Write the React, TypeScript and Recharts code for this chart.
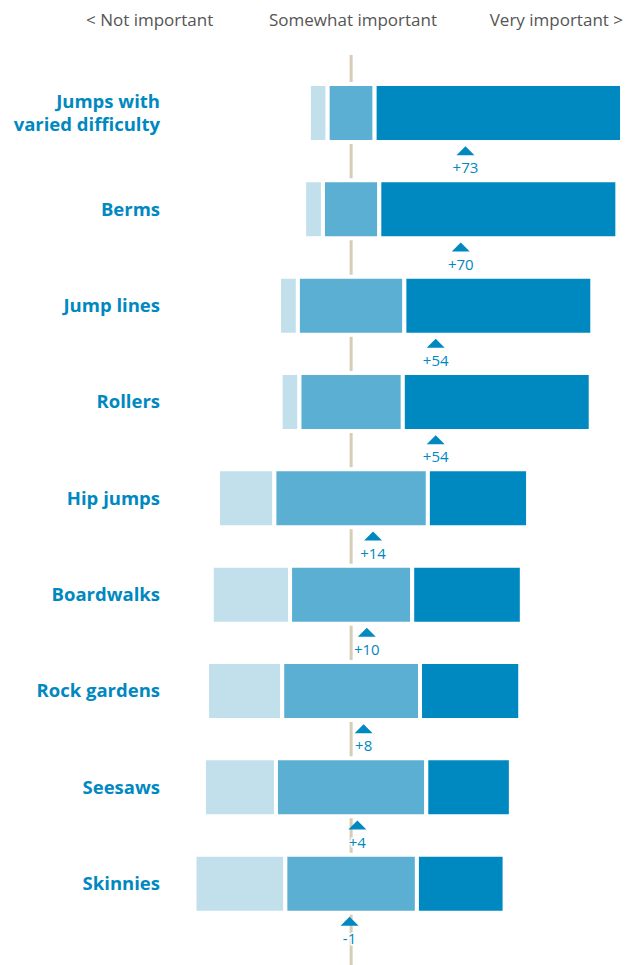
import React from 'react';
import {
  ComposedChart,
  Bar,
  Scatter,
  XAxis,
  YAxis,
  ReferenceLine,
} from 'recharts';

const categories = [
  'Jumps with\nvaried difficulty',
  'Berms',
  'Jump lines',
  'Rollers',
  'Hip jumps',
  'Boardwalks',
  'Rock gardens',
  'Seesaws',
  'Skinnies',
];
const notImportant = [6, 6, 6, 6, 18, 25, 24, 23, 29];
const somewhatImportant = [15, 18, 34, 33, 49, 39, 44, 48, 42];
const veryImportant = [79, 76, 60, 60, 32, 35, 32, 27, 28];

const headers = ['< Not important', 'Somewhat important', 'Very important >'];

// middle segment is centred on this axis value
const CENTER = 54;
const X_MAX = 144;

const BLUE = '#0088c0';
const FONT = '"Open Sans", sans-serif';
const W = 633;
const H = 965;
const MARGIN = { top: 55, right: 0, bottom: 0, left: 0 };

const rows = categories.map((name, i) => {
  const not = notImportant[i];
  const mid = somewhatImportant[i];
  const very = veryImportant[i];
  return {
    name,
    offset: CENTER - not - mid / 2,
    not,
    mid,
    very,
    net: very - not,
    marker: CENTER + (very - not) / 2,
  };
});

function RowTick({ x, y, payload }: any) {
  const lines = String(payload.value).split('\n');
  const lh = 23;
  return (
    <text
      x={x}
      y={y}
      textAnchor="end"
      fill={BLUE}
      fontFamily={FONT}
      fontWeight={700}
      fontSize={18.5}
    >
      {lines.map((l, i) => (
        <tspan key={i} x={x} dy={i === 0 ? 6 - ((lines.length - 1) * lh) / 2 : lh}>
          {l}
        </tspan>
      ))}
    </text>
  );
}

function NetMarker({ cx, cy, payload }: any) {
  const net = payload.net;
  const label = net > 0 ? `+${net}` : String(net);
  return (
    <g>
      <polygon
        points={`${cx},${cy + 33} ${cx - 9},${cy + 42} ${cx + 9},${cy + 42}`}
        fill={BLUE}
      />
      <text
        x={cx}
        y={cy + 60}
        textAnchor="middle"
        fill={BLUE}
        fontFamily={FONT}
        fontSize={15}
        stroke="#fff"
        strokeWidth={3}
        paintOrder="stroke"
      >
        {label}
      </text>
    </g>
  );
}

function Axes({ ticks }: { ticks: boolean }) {
  return (
    <>
      <XAxis type="number" domain={[0, X_MAX]} hide allowDataOverflow />
      <YAxis
        type="category"
        dataKey="name"
        width={182}
        axisLine={false}
        tickLine={false}
        tickSize={0}
        tickMargin={22}
        padding={{ top: 10, bottom: 33 }}
        tick={ticks ? <RowTick /> : false}
        interval={0}
      />
    </>
  );
}

export default function App() {
  return (
    <div style={{ position: 'absolute', left: 0, top: 0, width: W, height: H, background: '#fff' }}>
      <div style={{ position: 'absolute', top: 8, left: 0, width: W, fontFamily: FONT, fontSize: 17, color: '#555' }}>
        <span style={{ position: 'absolute', left: 86 }}>{headers[0]}</span>
        <span style={{ position: 'absolute', left: 353, transform: 'translateX(-50%)', whiteSpace: 'nowrap' }}>
          {headers[1]}
        </span>
        <span style={{ position: 'absolute', right: 10, whiteSpace: 'nowrap' }}>{headers[2]}</span>
      </div>
      {/* centre line sits behind the bars */}
      <div style={{ position: 'absolute', left: 0, top: 0 }}>
        <ComposedChart width={W} height={H} data={rows} layout="vertical" margin={MARGIN}>
          {Axes({ ticks: false })}
          <ReferenceLine x={CENTER} stroke="#d6ccb8" strokeWidth={3} />
        </ComposedChart>
      </div>
      <div style={{ position: 'absolute', left: 0, top: 0 }}>
        <ComposedChart
          width={W}
          height={H}
          data={rows}
          layout="vertical"
          margin={MARGIN}
          barCategoryGap={0}
        >
          {Axes({ ticks: true })}
          <Bar dataKey="offset" stackId="a" fill="transparent" barSize={58} isAnimationActive={false} />
          <Bar dataKey="not" stackId="a" fill="#c1e0ec" stroke="#fff" strokeWidth={4} barSize={58} isAnimationActive={false} />
          <Bar dataKey="mid" stackId="a" fill="#5bafd3" stroke="#fff" strokeWidth={4} barSize={58} isAnimationActive={false} />
          <Bar dataKey="very" stackId="a" fill={BLUE} stroke="#fff" strokeWidth={4} barSize={58} isAnimationActive={false} />
          <Scatter dataKey="marker" shape={<NetMarker />} isAnimationActive={false} />
        </ComposedChart>
      </div>
    </div>
  );
}
